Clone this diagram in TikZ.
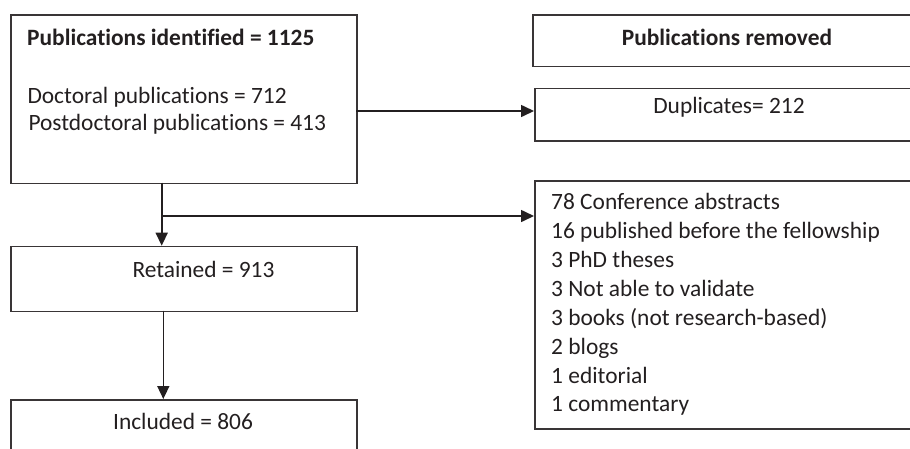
\documentclass[tikz,border=0pt]{standalone}
\usepackage{fontspec}
\setmainfont{Carlito}[RawFeature={-liga}]
\usetikzlibrary{arrows.meta,calc}
\definecolor{ink}{HTML}{231F20}
\tikzset{
  box/.style={draw=ink!90, line width=1.5pt, rectangle, inner sep=0pt, anchor=north west},
  txt/.style={text=ink, font=\fontsize{23.4}{28.3}\selectfont, inner sep=0pt},
  ltxt/.style={text=ink, font=\fontsize{23.4}{28.9}\selectfont, inner sep=0pt},
  btxt/.style={txt, font=\fontsize{23.4}{28.3}\selectfont\bfseries},
  conn/.style={draw=ink, line width=1.6pt},
  arr/.style={conn, -{Triangle[length=13pt,width=12pt]}}
}
\begin{document}
\begin{tikzpicture}[x=1pt,y=-1pt]
\useasboundingbox (0,0) rectangle (910,448);
\clip (0,0) rectangle (910,448);
% boxes
\node[box, minimum width=346pt, minimum height=168.4pt] (b1) at (10,14.3) {};
\node[box, minimum width=346pt, minimum height=65pt] (ret) at (10,245.7) {};
\node[box, minimum width=346pt, minimum height=70pt] (inc) at (10,399) {};
\node[box, minimum width=390pt, minimum height=51.4pt] (rem) at (532,14.3) {};
\node[box, minimum width=390pt, minimum height=52.3pt] (dup) at (534,87.7) {};
\node[box, minimum width=390pt, minimum height=248pt] (lst) at (534,180) {};
% texts
\node[btxt, anchor=base west] (t1) at (27,45) {Publications identified = 1125};
\node[txt, anchor=base west] (t2) at (27.3,103.3) {Doctoral publications = 712};
\node[txt, anchor=base west] (t3) at (28.3,130.7) {Postdoctoral publications = 413};
\node[btxt, anchor=base] (t4) at (727,45) {Publications removed};
\node[txt, anchor=base] (t5) at (729,113.3) {Duplicates= 212};
\node[txt, anchor=base] (t6) at (203.5,277.3) {Retained = 913};
\node[txt, anchor=base] (t7) at (183,429.5) {Included = 806};
\node[ltxt, anchor=north west, align=left] (t8) at (551,193.2) {78 Conference abstracts\\16 published before the fellowship\\3 PhD theses\\3 Not able to validate\\3 books (not research-based)\\2 blogs\\1 editorial\\1 commentary};
% connectors
\coordinate (a1) at (356,111);
\draw[arr] (a1) -- (a1 -| dup.west);
\coordinate (v1) at (161.7,182.7);
\draw[arr] (v1) -- (v1 |- ret.north);
\coordinate (br) at (161.7,216);
\draw[arr] (br) -- (br -| lst.west);
\coordinate (v2) at (163.3,310.7);
\draw[arr] (v2) -- (v2 |- inc.north);
\end{tikzpicture}
\end{document}
